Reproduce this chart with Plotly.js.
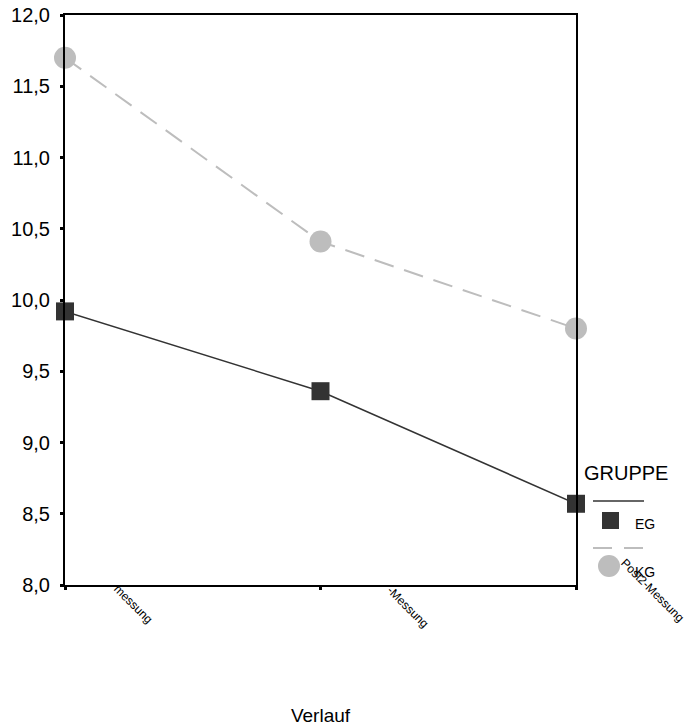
<!DOCTYPE html>
<html>
<head>
<meta charset="utf-8">
<script src="https://cdn.plot.ly/plotly-3.0.1.min.js"></script>
<style>html,body{margin:0;padding:0;background:#fff;}#chart{width:689px;height:727px;}</style>
</head>
<body>
<div id="chart"></div>
<script>
// Data
const categories = ["messung", "-Messung", "Post2-Messung"];
const egValues = [9.92, 9.36, 8.57];
const kgValues = [11.70, 10.41, 9.80];
const yTickVals = [8.0, 8.5, 9.0, 9.5, 10.0, 10.5, 11.0, 11.5, 12.0];
const yTickText = ["8,0", "8,5", "9,0", "9,5", "10,0", "10,5", "11,0", "11,5", "12,0"];
const seriesNames = ["EG", "KG"];
const legendTitle = "GRUPPE";
const xTitle = "Verlauf";

const FONT = "Liberation Sans, Arial, sans-serif";
const EG_COLOR = "#333333";
const KG_COLOR = "#bdbdbd";

const traces = [
  {
    x: categories, y: kgValues, name: seriesNames[1], type: "scatter", mode: "lines+markers",
    line: {color: KG_COLOR, width: 2, dash: "20px,11px"},
    marker: {symbol: "circle", size: 22, color: KG_COLOR, line: {width: 0}},
    cliponaxis: false, showlegend: false, hoverinfo: "skip"
  },
  {
    x: categories, y: egValues, name: seriesNames[0], type: "scatter", mode: "lines+markers",
    line: {color: EG_COLOR, width: 1.5},
    marker: {symbol: "square", size: 18, color: EG_COLOR, line: {width: 0}},
    cliponaxis: false, showlegend: false, hoverinfo: "skip"
  }
];

// px -> paper helpers (plot area: x 65..576, y 15..585)
const L = 65, R = 576, T = 15, B = 585;
const px = v => (v - L) / (R - L);
const py = v => (B - v) / (B - T);

const shapes = [
  {type: "line", xref: "paper", yref: "paper", x0: px(593), x1: px(644), y0: py(501), y1: py(501),
   line: {color: EG_COLOR, width: 1.5}},
  {type: "rect", xref: "paper", yref: "paper", x0: px(602), x1: px(619), y0: py(529), y1: py(512),
   fillcolor: EG_COLOR, line: {width: 0}},
  {type: "line", xref: "paper", yref: "paper", x0: px(593), x1: px(645), y0: py(548), y1: py(548),
   line: {color: KG_COLOR, width: 2, dash: "19px,12px"}},
  {type: "circle", xref: "paper", yref: "paper", x0: px(598), x1: px(620), y0: py(577), y1: py(555),
   fillcolor: KG_COLOR, line: {width: 0}}
];

const tickShifts = [[43, 6], [61, 5], [39, 32]];
const annotations = categories.map((c, i) => ({
  x: c, xref: "x", y: 0, yref: "paper", text: c, showarrow: false, textangle: 45,
  xanchor: "left", yanchor: "top", xshift: tickShifts[i][0], yshift: tickShifts[i][1],
  font: {family: FONT, size: 12, color: "#000"}
}));
annotations.push(
  {x: px(582), y: py(473), xref: "paper", yref: "paper", text: legendTitle, showarrow: false,
   xanchor: "left", yanchor: "middle", font: {family: FONT, size: 20, color: "#000"}},
  {x: px(633), y: py(524), xref: "paper", yref: "paper", text: seriesNames[0], showarrow: false,
   xanchor: "left", yanchor: "middle", font: {family: FONT, size: 14, color: "#000"}},
  {x: px(633), y: py(572), xref: "paper", yref: "paper", text: seriesNames[1], showarrow: false,
   xanchor: "left", yanchor: "middle", font: {family: FONT, size: 14, color: "#000"}}
);

const layout = {
  width: 689, height: 727,
  margin: {l: L, r: 689 - R, t: T, b: 727 - B, pad: 0},
  paper_bgcolor: "#fff", plot_bgcolor: "#fff",
  font: {family: FONT, color: "#000"},
  showlegend: false,
  xaxis: {
    type: "category", range: [0, 2], showgrid: false, zeroline: false,
    showline: true, linecolor: "#000", linewidth: 2, mirror: true,
    ticks: "outside", ticklen: 3, tickwidth: 3, tickcolor: "#000",
    showticklabels: false,
    title: {text: xTitle, standoff: 120, font: {family: FONT, size: 19, color: "#000"}},
    automargin: false
  },
  yaxis: {
    range: [8, 12], showgrid: false, zeroline: false,
    showline: true, linecolor: "#000", linewidth: 2, mirror: true,
    ticks: "outside", ticklen: 3, tickwidth: 3, tickcolor: "#000",
    tickvals: yTickVals, ticktext: yTickText, ticklabelstandoff: 6,
    tickfont: {family: FONT, size: 20, color: "#000"},
    automargin: false
  },
  shapes: shapes,
  annotations: annotations
};

Plotly.newPlot("chart", traces, layout, {staticPlot: true, displayModeBar: false});
</script>
</body>
</html>
